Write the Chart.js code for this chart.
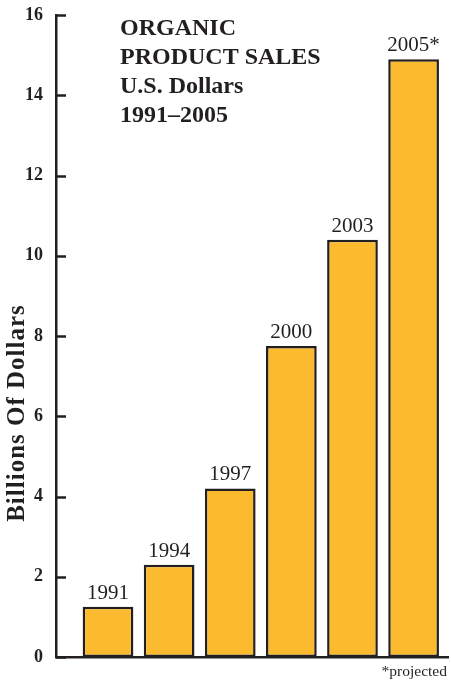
<!DOCTYPE html>
<html>
<head>
<meta charset="utf-8">
<script src="https://cdn.jsdelivr.net/npm/chart.js@4/dist/chart.umd.min.js"></script>
<style>
  html, body { margin: 0; padding: 0; background: #ffffff; }
  #wrap { position: relative; width: 451px; height: 681px; }
</style>
</head>
<body>
<div id="wrap"><canvas id="c" width="451" height="681"></canvas></div>
<script>
// Organic product sales, billions of U.S. dollars
const years = ['1991', '1994', '1997', '2000', '2003', '2005*'];
const sales = [1.25, 2.3, 4.2, 7.75, 10.4, 14.9];
const yTicks = [0, 2, 4, 6, 8, 10, 12, 14, 16];
const titleLines = ['ORGANIC', 'PRODUCT SALES', 'U.S. Dollars', '1991\u20132005'];
const axisTitle = 'Billions Of Dollars';
const footnote = '*projected';

const ink = '#231f20';
const barFill = '#fcba2f';

// Inward tick marks, year labels over the bars, and the free-standing texts
const decorations = {
  id: 'decorations',
  afterDatasetsDraw(chart) {
    const ctx = chart.ctx;
    const area = chart.chartArea;
    const y = chart.scales.y;

    // tick marks pointing into the plot
    ctx.save();
    ctx.strokeStyle = ink;
    ctx.lineWidth = 2.5;
    yTicks.forEach(v => {
      const py = Math.round(y.getPixelForValue(v)) + 0.5;
      ctx.beginPath();
      ctx.moveTo(area.left, py);
      ctx.lineTo(area.left + 10, py);
      ctx.stroke();
    });
    ctx.restore();

    // category labels above each bar
    const meta = chart.getDatasetMeta(0);
    ctx.save();
    ctx.fillStyle = ink;
    ctx.font = '21px "Liberation Serif", "Times New Roman", serif';
    ctx.textAlign = 'center';
    ctx.textBaseline = 'alphabetic';
    meta.data.forEach((bar, i) => {
      ctx.fillText(years[i], bar.x, bar.y - 8);
    });
    ctx.restore();

    // chart heading
    ctx.save();
    ctx.fillStyle = ink;
    ctx.font = 'bold 24px "Liberation Serif", "Times New Roman", serif';
    ctx.textAlign = 'left';
    ctx.textBaseline = 'alphabetic';
    titleLines.forEach((t, i) => ctx.fillText(t, 120, 35 + i * 29));
    ctx.restore();

    // vertical axis title
    ctx.save();
    ctx.fillStyle = ink;
    ctx.font = 'bold 25px "Liberation Serif", "Times New Roman", serif';
    ctx.letterSpacing = '1px';
    ctx.translate(24, 413);
    ctx.rotate(-Math.PI / 2);
    ctx.textAlign = 'center';
    ctx.textBaseline = 'alphabetic';
    ctx.fillText(axisTitle, 0, 0);
    ctx.restore();

    // footnote
    ctx.save();
    ctx.fillStyle = ink;
    ctx.font = '15.5px "Liberation Serif", "Times New Roman", serif';
    ctx.textAlign = 'right';
    ctx.textBaseline = 'alphabetic';
    ctx.fillText(footnote, 447, 676);
    ctx.restore();
  }
};

new Chart(document.getElementById('c'), {
  type: 'bar',
  data: {
    datasets: [{
      data: sales.map((v, i) => ({ x: i, y: v })),
      backgroundColor: barFill,
      borderColor: ink,
      borderWidth: 2.5,
      borderSkipped: false,
      categoryPercentage: 1,
      barPercentage: 0.83
    }]
  },
  options: {
    responsive: false,
    animation: false,
    devicePixelRatio: 1,
    layout: { padding: { top: 15, right: 3, bottom: 24, left: 0 } },
    plugins: { legend: { display: false }, tooltip: { enabled: false }, title: { display: false } },
    scales: {
      x: {
        type: 'linear',
        offset: false,
        min: -0.851,
        max: 5.563,
        grid: { display: false },
        ticks: { display: false },
        border: { display: true, color: ink, width: 2.5 },
        afterFit(s) { s.height = 0; s.paddingLeft = 0; s.paddingRight = 0; }
      },
      y: {
        min: 0,
        max: 16,
        afterBuildTicks(s) { s.ticks = yTicks.map(v => ({ value: v })); },
        grid: { display: false },
        border: { display: true, color: ink, width: 2.5 },
        ticks: {
          padding: 5,
          color: ink,
          font: { family: '"Liberation Serif", "Times New Roman", serif', size: 18, weight: 'bold' }
        },
        afterFit(s) { s.width = 56; s.paddingTop = 0; s.paddingBottom = 0; }
      }
    }
  },
  plugins: [decorations]
});
</script>
</body>
</html>
